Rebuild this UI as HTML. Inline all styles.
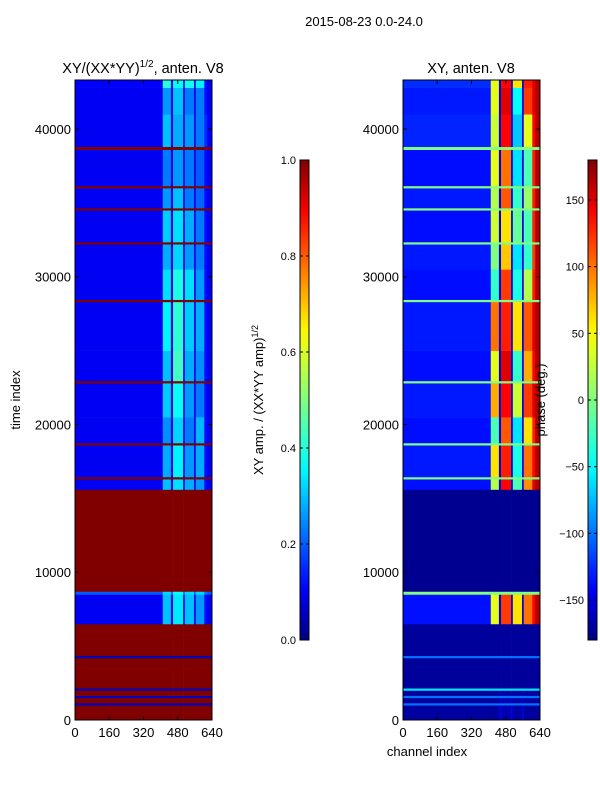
<!DOCTYPE html>
<html><head><meta charset="utf-8">
<style>
body{margin:0;background:#fff;font-family:"Liberation Sans",sans-serif;}
#wrap{position:relative;width:600px;height:800px;overflow:hidden;}
svg text{font-family:"Liberation Sans",sans-serif;}
</style></head>
<body>
<div id="wrap">
<svg id="fig" width="600" height="800" xmlns="http://www.w3.org/2000/svg">
<text x="364" y="26" font-size="13" text-anchor="middle">2015-08-23 0.0-24.0</text>
<text x="143" y="73" font-size="14.5" text-anchor="middle">XY/(XX*YY)<tspan font-size="10" dy="-6">1/2</tspan><tspan dy="6">, anten. V8</tspan></text>
<text x="471" y="73" font-size="14.5" text-anchor="middle">XY, anten. V8</text>
<text x="20" y="400" font-size="13" text-anchor="middle" transform="rotate(-90 20 400)">time index</text>
<text x="427" y="756" font-size="13" text-anchor="middle">channel index</text>
<text x="263" y="400" font-size="13" text-anchor="middle" transform="rotate(-90 263 400)">XY amp. / (XX*YY amp)<tspan font-size="9" dy="-5">1/2</tspan></text>
<g id="left"></g>
<g id="right"></g>
<g id="cb"></g>
<text x="545" y="400" font-size="13" text-anchor="middle" transform="rotate(-90 545 400)">phase (deg.)</text>
</svg>
</div>
<script>
const chanEdges=[0,410,448,458,505,513,556,564,604,618,640];
const rowStarts=[0,1000,1150,1500,1650,2000,2150,4200,4350,6500,8500,8700,15600,16300,16450,18600,18750,20500,22800,22950,25000,28300,28450,30500,32200,32350,34500,34650,36000,36150,38600,38800,41000,42800];
const rowEnds=[1000,1150,1500,1650,2000,2150,4200,4350,6500,8500,8700,15600,16300,16450,18600,18750,20500,22800,22950,25000,28300,28450,30500,32200,32350,34500,34650,36000,36150,38600,38800,41000,42800,43300];
const ampMatrix=[
[1,1,1,1,1,1,1,1,1,1],
[0.05,0.05,0.05,0.05,0.05,0.05,0.05,0.05,0.05,0.05],
[1,1,1,1,1,1,1,1,1,1],
[0.05,0.05,0.05,0.05,0.05,0.05,0.05,0.05,0.05,0.05],
[1,1,1,1,1,1,1,1,1,1],
[0.05,0.05,0.05,0.05,0.05,0.05,0.05,0.05,0.05,0.05],
[1,1,1,1,1,1,1,1,1,1],
[0.05,0.05,0.05,0.05,0.05,0.05,0.05,0.05,0.05,0.05],
[1,1,1,1,1,1,1,1,1,1],
[0.1,0.3,0.1,0.34,0.1,0.3,0.1,0.26,0.12,0.1],
[0.2,0.32,0.22,0.36,0.22,0.32,0.22,0.32,0.22,0.2],
[1,1,1,1,1,1,1,1,1,1],
[0.1,0.3,0.1,0.33,0.1,0.28,0.1,0.26,0.12,0.1],
[1,1,1,1,1,1,1,1,1,1],
[0.1,0.28,0.1,0.35,0.1,0.26,0.1,0.28,0.12,0.1],
[1,1,1,1,1,1,1,1,1,1],
[0.1,0.25,0.1,0.32,0.1,0.23,0.1,0.29,0.12,0.1],
[0.1,0.31,0.1,0.37,0.1,0.26,0.1,0.23,0.12,0.1],
[1,1,1,1,1,1,1,1,1,1],
[0.1,0.3,0.1,0.43,0.1,0.28,0.1,0.25,0.12,0.1],
[0.1,0.35,0.1,0.41,0.1,0.31,0.1,0.28,0.12,0.1],
[1,1,1,1,1,1,1,1,1,1],
[0.1,0.33,0.1,0.39,0.1,0.33,0.1,0.26,0.12,0.1],
[0.1,0.28,0.1,0.32,0.1,0.26,0.1,0.23,0.12,0.1],
[1,1,1,1,1,1,1,1,1,1],
[0.1,0.31,0.1,0.33,0.1,0.28,0.1,0.23,0.12,0.1],
[1,1,1,1,1,1,1,1,1,1],
[0.1,0.26,0.1,0.3,0.1,0.23,0.1,0.21,0.12,0.1],
[1,1,1,1,1,1,1,1,1,1],
[0.1,0.23,0.1,0.26,0.1,0.23,0.1,0.2,0.12,0.1],
[1,1,1,1,1,1,1,1,1,1],
[0.1,0.3,0.1,0.28,0.1,0.26,0.1,0.23,0.15,0.11],
[0.1,0.26,0.1,0.3,0.1,0.23,0.1,0.23,0.12,0.1],
[0.11,0.4,0.11,0.37,0.11,0.38,0.11,0.35,0.12,0.1]
];
const phaseMatrix=[
[-170,-172,-150,-165,-150,-168,-150,-170,-172,-172],
[-100,-100,-100,-100,-100,-100,-100,-100,-100,-100],
[-172,-172,-160,-165,-160,-168,-160,-170,-172,-172],
[-100,-100,-100,-100,-100,-100,-100,-100,-100,-100],
[-172,-172,-165,-170,-165,-170,-165,-170,-172,-172],
[-60,-60,-60,-60,-60,-60,-60,-60,-60,-60],
[-172,-172,-172,-172,-172,-172,-172,-172,-172,-172],
[-100,-100,-100,-100,-100,-100,-100,-100,-100,-100],
[-172,-172,-172,-172,-172,-172,-172,-172,-172,-172],
[-135,40,-150,120,-150,60,-150,100,140,165],
[0,0,0,0,0,0,0,0,0,0],
[-175,-175,-175,-175,-175,-175,-175,-175,-175,-175],
[-135,20,-150,140,-150,-20,-150,90,150,165],
[0,0,0,0,0,0,0,0,0,0],
[-132,60,-150,130,-150,-40,-150,100,140,165],
[0,0,0,0,0,0,0,0,0,0],
[-136,-20,-150,110,-150,-60,-150,60,130,165],
[-132,80,-150,140,-150,30,-150,120,150,165],
[0,0,0,0,0,0,0,0,0,0],
[-136,40,-150,150,-150,-30,-150,80,140,165],
[-132,100,-150,130,-150,60,-150,110,150,165],
[0,0,0,0,0,0,0,0,0,0],
[-136,-30,-150,120,-150,-40,-150,20,130,165],
[-132,0,-150,70,-150,-60,-150,-30,120,165],
[0,0,0,0,0,0,0,0,0,0],
[-136,30,-150,60,-150,-10,-150,-20,130,165],
[0,0,0,0,0,0,0,0,0,0],
[-132,20,-150,110,-150,-30,-150,10,130,165],
[0,0,0,0,0,0,0,0,0,0],
[-136,40,-150,100,-150,-60,-150,-20,130,165],
[0,0,0,0,0,0,0,0,0,0],
[-128,30,-150,140,-150,-70,-150,40,140,165],
[-132,40,-150,150,-150,-50,-150,120,150,165],
[-125,40,-150,140,-150,60,-150,130,150,165]
];
const xTicks=[0,160,320,480,640];
const yTicks=[0,10000,20000,30000,40000];
const ampTicks=[0,0.2,0.4,0.6,0.8,1.0];
const ampTickLabels=["0.0","0.2","0.4","0.6","0.8","1.0"];
const phaseTicks=[-150,-100,-50,0,50,100,150];

const NS="http://www.w3.org/2000/svg";
const T_MAX=43316, TOP=80, BOT=720, W=137;
const yScale=t=>BOT-(t/T_MAX)*(BOT-TOP);
const xScale=(x0,c)=>x0+(c/640)*W;
const stops=[[0,[0,0,128]],[0.11,[0,0,255]],[0.36,[0,255,255]],[0.5,[128,255,128]],[0.64,[255,255,0]],[0.89,[255,0,0]],[1,[128,0,0]]];
function jet(v){v=Math.max(0,Math.min(1,v));for(let i=1;i<stops.length;i++){if(v<=stops[i][0]){const a=stops[i-1],b=stops[i],f=(v-a[0])/(b[0]-a[0]);const c=a[1].map((x,k)=>Math.round(x+(b[1][k]-x)*f));return `rgb(${c[0]},${c[1]},${c[2]})`;}}return "rgb(128,0,0)";}
function mk(tag,attrs,parent){const e=document.createElementNS(NS,tag);for(const k in attrs)e.setAttribute(k,attrs[k]);parent.appendChild(e);return e;}

function drawPanel(gid,x0,matrix,norm){
  const g=document.getElementById(gid);
  for(let r=0;r<rowStarts.length;r++){
    const y1=yScale(rowEnds[r]),y2=yScale(rowStarts[r]);
    for(let c=0;c<chanEdges.length-1;c++){
      const xa=xScale(x0,chanEdges[c]),xb=xScale(x0,chanEdges[c+1]);
      const rc=mk('rect',{x:xa,y:y1,width:xb-xa+0.3,height:y2-y1+0.3,fill:jet(norm(matrix[r][c]))},g);
      
      
    }
  }
  const fr=mk('rect',{x:x0,y:TOP,width:W,height:BOT-TOP,fill:'none',stroke:'#000','stroke-width':1},g);
  
  
  xTicks.forEach(v=>{const x=xScale(x0,v);
    mk('line',{x1:x,x2:x,y1:BOT,y2:BOT-4,stroke:'#000'},g);mk('line',{x1:x,x2:x,y1:TOP,y2:TOP+4,stroke:'#000'},g);
    const t=mk('text',{x:x,y:BOT+17,'font-size':13,'text-anchor':'middle'},g);t.textContent=v;
    
    });
  yTicks.forEach(v=>{const y=yScale(v);
    mk('line',{x1:x0,x2:x0+4,y1:y,y2:y,stroke:'#000'},g);mk('line',{x1:x0+W,x2:x0+W-4,y1:y,y2:y,stroke:'#000'},g);
    const t=mk('text',{x:x0-4,y:y+5,'font-size':13,'text-anchor':'end'},g);t.textContent=v;
    
    });
}
drawPanel('left',75,ampMatrix,v=>v);
drawPanel('right',403,phaseMatrix,v=>(v+180)/360);

function drawCb(x,vals,labels,norm,id){
  const g=document.getElementById('cb');
  const defs=mk('defs',{},g);
  const lg=mk('linearGradient',{id:id,x1:0,y1:1,x2:0,y2:0},defs);
  for(let i=0;i<=20;i++){mk('stop',{offset:i/20,'stop-color':jet(i/20)},lg);}
  const r=mk('rect',{x:x,y:160,width:9,height:480,fill:`url(#${id})`,stroke:'#000','stroke-width':1},g);
  
  
  vals.forEach((v,i)=>{const y=640-norm(v)*480;
    mk('line',{x1:x,x2:x+3,y1:y,y2:y,stroke:'#000'},g);mk('line',{x1:x+9,x2:x+6,y1:y,y2:y,stroke:'#000'},g);
    const t=mk('text',{x:x-4,y:y+4,'font-size':11,'text-anchor':'end'},g);t.textContent=labels[i];
    
    });
}
drawCb(300,ampTicks,ampTickLabels,v=>v,'g1');
drawCb(588,phaseTicks,phaseTicks.map(v=>v<0?'\u2212'+(-v):''+v),v=>(v+180)/360,'g2');
</script>
</body></html>
